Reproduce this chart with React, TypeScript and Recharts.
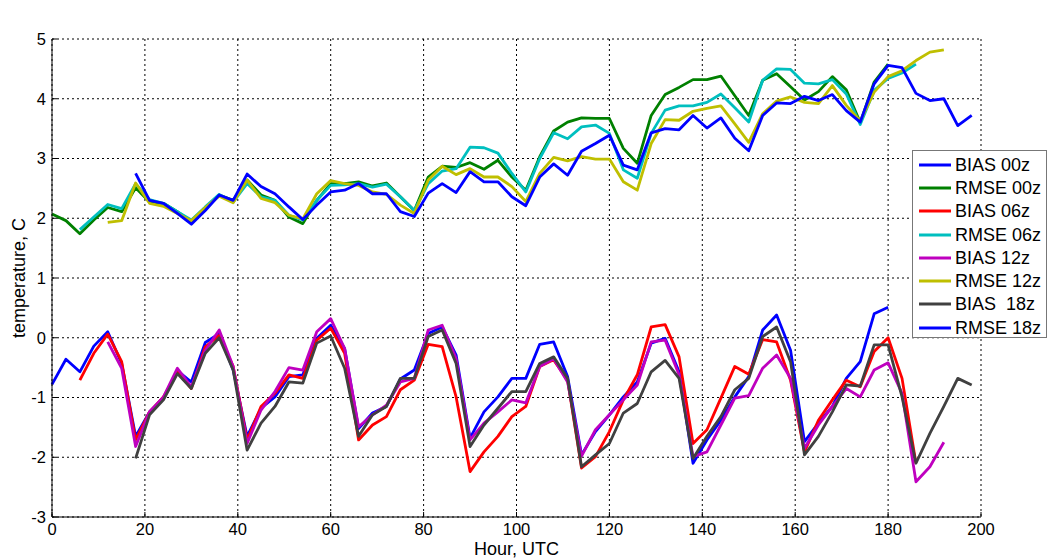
import React from 'react';
import { LineChart, Line, XAxis, YAxis, CartesianGrid, Legend } from 'recharts';

// Forecast hour categories (UTC)
const hours = [
  0, 3, 6, 9, 12, 15, 18, 21, 24, 27, 30, 33, 36, 39, 42, 45, 48, 51, 54, 57, 60, 63, 66, 69,
  72, 75, 78, 81, 84, 87, 90, 93, 96, 99, 102, 105, 108, 111, 114, 117, 120, 123, 126, 129,
  132, 135, 138, 141, 144, 147, 150, 153, 156, 159, 162, 165, 168, 171, 174, 177, 180, 183,
  186, 189, 192, 195, 198,
];

const xTicks = [0, 20, 40, 60, 80, 100, 120, 140, 160, 180, 200];
const yTicks = [-3, -2, -1, 0, 1, 2, 3, 4, 5];

// BIAS 00z, hours 0..180
const bias00 = [
  -0.78, -0.36, -0.57, -0.14, 0.1, -0.43, -1.65, -1.24, -1.01, -0.55, -0.74, -0.08, 0.07, -0.54,
  -1.65, -1.18, -0.99, -0.65, -0.62, -0.01, 0.21, -0.18, -1.52, -1.26, -1.15, -0.69, -0.54, 0.07,
  0.18, -0.29, -1.68, -1.24, -0.99, -0.68, -0.68, -0.11, -0.07, -0.65, -1.96, -1.57, -1.29, -0.99,
  -0.74, -0.09, -0.01, -0.57, -2.1, -1.71, -1.38, -0.99, -0.65, 0.13, 0.38, -0.21, -1.74, -1.43,
  -1.15, -0.68, -0.4, 0.4, 0.51,
];
// RMSE 00z, hours 0..180
const rmse00 = [
  2.07, 1.96, 1.74, 1.97, 2.18, 2.11, 2.51, 2.27, 2.25, 2.11, 1.94, 2.16, 2.39, 2.3, 2.64, 2.39,
  2.3, 2.02, 1.91, 2.3, 2.58, 2.58, 2.61, 2.54, 2.59, 2.36, 2.13, 2.69, 2.87, 2.85, 2.93, 2.82,
  2.97, 2.69, 2.47, 3.03, 3.46, 3.61, 3.68, 3.67, 3.67, 3.17, 2.92, 3.72, 4.07, 4.19, 4.32, 4.32,
  4.38, 4.05, 3.72, 4.31, 4.42, 4.2, 3.98, 4.12, 4.37, 4.15, 3.6, 4.28, 4.58,
];
// BIAS 06z, hours 6..186
const bias06 = [
  -0.71, -0.26, 0.06, -0.4, -1.71, -1.24, -0.99, -0.57, -0.85, -0.15, 0.04, -0.48, -1.71, -1.15,
  -0.93, -0.62, -0.68, -0.04, 0.16, -0.26, -1.71, -1.46, -1.32, -0.87, -0.71, -0.11, -0.15, -0.99,
  -2.24, -1.91, -1.65, -1.32, -1.15, -0.48, -0.37, -0.71, -2.18, -1.99, -1.57, -1.04, -0.62, 0.18,
  0.22, -0.32, -1.77, -1.54, -1.01, -0.48, -0.61, -0.03, -0.07, -0.71, -1.91, -1.38, -1.04, -0.71,
  -0.82, -0.23, 0.0, -0.68, -2.1,
];
// RMSE 06z, hours 6..186
const rmse06 = [
  1.81, 2.02, 2.23, 2.16, 2.58, 2.31, 2.25, 2.11, 1.97, 2.19, 2.4, 2.27, 2.58, 2.36, 2.3, 2.05,
  1.97, 2.3, 2.55, 2.56, 2.58, 2.52, 2.57, 2.36, 2.13, 2.58, 2.79, 2.83, 3.19, 3.18, 3.09, 2.75,
  2.44, 3.0, 3.43, 3.33, 3.53, 3.56, 3.42, 2.81, 2.67, 3.42, 3.81, 3.88, 3.88, 3.94, 4.08, 3.85,
  3.61, 4.31, 4.5, 4.49, 4.26, 4.25, 4.32, 4.08, 3.57, 4.14, 4.34, 4.43, 4.58,
];
// BIAS 12z, hours 12..192
const bias12 = [
  -0.07, -0.51, -1.82, -1.24, -0.99, -0.51, -0.82, -0.21, 0.13, -0.48, -1.77, -1.21, -0.9, -0.5,
  -0.54, 0.1, 0.32, -0.18, -1.49, -1.29, -1.13, -0.74, -0.68, 0.13, 0.21, -0.35, -1.71, -1.43,
  -1.24, -1.04, -1.09, -0.48, -0.35, -0.74, -1.98, -1.54, -1.29, -1.04, -0.79, -0.07, -0.04, -0.62,
  -1.99, -1.91, -1.46, -1.01, -0.97, -0.51, -0.29, -0.68, -1.85, -1.46, -1.15, -0.85, -0.99, -0.54,
  -0.42, -0.93, -2.41, -2.16, -1.75,
];
// RMSE 12z, hours 12..192
const rmse12 = [
  1.93, 1.96, 2.59, 2.25, 2.2, 2.08, 1.96, 2.18, 2.37, 2.26, 2.64, 2.33, 2.26, 2.05, 1.99, 2.41,
  2.63, 2.58, 2.55, 2.44, 2.4, 2.22, 2.08, 2.64, 2.87, 2.73, 2.83, 2.69, 2.69, 2.53, 2.28, 2.75,
  3.02, 2.96, 3.03, 2.99, 2.99, 2.61, 2.47, 3.25, 3.65, 3.64, 3.79, 3.84, 3.88, 3.58, 3.27, 3.75,
  3.96, 4.03, 3.94, 3.92, 4.22, 3.89, 3.63, 4.11, 4.37, 4.47, 4.64, 4.78, 4.82,
];
// BIAS 18z, hours 18..198
const bias18 = [
  -2.02, -1.29, -1.04, -0.6, -0.85, -0.26, 0.0, -0.54, -1.88, -1.43, -1.15, -0.74, -0.76, -0.09,
  0.03, -0.51, -1.65, -1.29, -1.15, -0.68, -0.68, 0.02, 0.13, -0.43, -1.82, -1.46, -1.18, -0.9,
  -0.9, -0.43, -0.32, -0.68, -2.16, -1.96, -1.77, -1.26, -1.1, -0.57, -0.38, -0.68, -2.02, -1.65,
  -1.32, -0.87, -0.68, 0.02, 0.18, -0.4, -1.96, -1.65, -1.24, -0.79, -0.81, -0.12, -0.12, -0.99,
  -2.1, -1.6, -1.15, -0.68, -0.79,
];
// RMSE 18z, hours 18..198
const rmse18 = [
  2.75, 2.3, 2.25, 2.08, 1.9, 2.13, 2.39, 2.3, 2.74, 2.53, 2.41, 2.19, 1.98, 2.22, 2.44, 2.47,
  2.58, 2.41, 2.41, 2.11, 2.03, 2.42, 2.58, 2.43, 2.78, 2.61, 2.61, 2.36, 2.21, 2.69, 2.91, 2.72,
  3.12, 3.25, 3.39, 2.89, 2.81, 3.43, 3.5, 3.48, 3.72, 3.51, 3.68, 3.34, 3.13, 3.72, 3.93, 3.92,
  4.04, 3.97, 4.07, 3.8, 3.61, 4.25, 4.56, 4.52, 4.09, 3.97, 4.0, 3.55, 3.72,
];

const SERIES = [
  { key: 'bias00', name: 'BIAS 00z', color: '#0000ff', start: 0, values: bias00 },
  { key: 'rmse00', name: 'RMSE 00z', color: '#008000', start: 0, values: rmse00 },
  { key: 'bias06', name: 'BIAS 06z', color: '#ff0000', start: 6, values: bias06 },
  { key: 'rmse06', name: 'RMSE 06z', color: '#00bfbf', start: 6, values: rmse06 },
  { key: 'bias12', name: 'BIAS 12z', color: '#bf00bf', start: 12, values: bias12 },
  { key: 'rmse12', name: 'RMSE 12z', color: '#bfbf00', start: 12, values: rmse12 },
  { key: 'bias18', name: 'BIAS  18z', color: '#404040', start: 18, values: bias18 },
  { key: 'rmse18', name: 'RMSE 18z', color: '#0000ff', start: 18, values: rmse18 },
];

const data = hours.map((h) => {
  const row: Record<string, number> = { h };
  SERIES.forEach((s) => {
    const idx = (h - s.start) / 3;
    if (idx >= 0 && idx < s.values.length) row[s.key] = s.values[idx];
  });
  return row;
});

const FONT = '"Liberation Sans", Arial, Helvetica, sans-serif';
const tickStyle = { fontSize: 16.5, fill: '#000', fontFamily: FONT };

const LegendBox = () => (
  <div
    style={{
      width: 135,
      height: 188,
      boxSizing: 'border-box',
      border: '1px solid #777',
      background: '#fff',
      paddingTop: 2,
      fontFamily: FONT,
      fontSize: 18,
      color: '#000',
    }}
  >
    {SERIES.map((s) => (
      <div key={s.key} style={{ display: 'flex', alignItems: 'center', height: 23.3 }}>
        <svg width={37} height={10} style={{ marginLeft: 5, flex: 'none' }}>
          <line x1={1} y1={5} x2={33} y2={5} stroke={s.color} strokeWidth={3} />
        </svg>
        <span style={{ whiteSpace: 'pre', lineHeight: '20px' }}>{s.name}</span>
      </div>
    ))}
  </div>
);

const YLabel = (props: any) => {
  const vb = props.viewBox || {};
  const cy = vb.y + vb.height / 2;
  const cx = 19;
  return (
    <text
      x={cx}
      y={cy}
      transform={`rotate(-90 ${cx} ${cy})`}
      textAnchor="middle"
      dominantBaseline="central"
      style={{ fontSize: 18, fontFamily: FONT, fill: '#000' }}
    >
      temperature, C
    </text>
  );
};

const XLabel = (props: any) => {
  const vb = props.viewBox || {};
  return (
    <text
      x={vb.x + vb.width / 2}
      y={vb.y + 38}
      textAnchor="middle"
      style={{ fontSize: 18, fontFamily: FONT, fill: '#000' }}
    >
      Hour, UTC
    </text>
  );
};

const TitleLabel = (props: any) => {
  const vb = props.viewBox || {};
  return (
    <text
      x={vb.x + vb.width / 2}
      y={vb.y + vb.height - 13}
      textAnchor="middle"
      style={{ fontSize: 18, fontFamily: FONT, fill: '#000' }}
    >
      All Stations 2012 May
    </text>
  );
};

export default function App() {
  return (
    <div style={{ position: 'absolute', left: 0, top: 0, width: 1047, height: 558, background: '#fff' }}>
      <LineChart
        width={1047}
        height={558}
        data={data}
        margin={{ top: 39, right: 66, bottom: 0, left: 0 }}
      >
        <CartesianGrid stroke="#000" strokeDasharray="2 3" strokeWidth={1} />
        <XAxis
          dataKey="h"
          type="number"
          domain={[0, 200]}
          ticks={xTicks}
          height={41}
          tickSize={-5}
          tickMargin={11}
          tick={tickStyle}
          axisLine={{ stroke: '#000' }}
          tickLine={{ stroke: '#000' }}
          label={<XLabel />}
        />
        <XAxis
          xAxisId="top"
          orientation="top"
          dataKey="h"
          type="number"
          domain={[0, 200]}
          ticks={xTicks}
          height={0}
          tickSize={-5}
          tick={false}
          axisLine={{ stroke: '#000' }}
          tickLine={{ stroke: '#000' }}
          label={<TitleLabel />}
        />
        <YAxis
          type="number"
          domain={[-3, 5]}
          ticks={yTicks}
          width={52}
          tickSize={-5}
          tickMargin={11}
          tick={tickStyle}
          axisLine={{ stroke: '#000' }}
          tickLine={{ stroke: '#000' }}
          label={<YLabel />}
        />
        <YAxis
          yAxisId="right"
          orientation="right"
          type="number"
          domain={[-3, 5]}
          ticks={yTicks}
          width={0}
          tickSize={-5}
          tick={false}
          axisLine={{ stroke: '#000' }}
          tickLine={{ stroke: '#000' }}
        />
        <Legend
          layout="vertical"
          align="center"
          verticalAlign="middle"
          content={<LegendBox />}
          wrapperStyle={{ position: 'absolute', left: 912, top: 150, width: 135, height: 188 }}
        />
        {SERIES.map((s) => (
          <Line
            key={s.key}
            dataKey={s.key}
            name={s.name}
            stroke={s.color}
            strokeWidth={2.8}
            strokeLinejoin="round"
            dot={false}
            activeDot={false}
            isAnimationActive={false}
            connectNulls={false}
          />
        ))}
      </LineChart>
    </div>
  );
}
